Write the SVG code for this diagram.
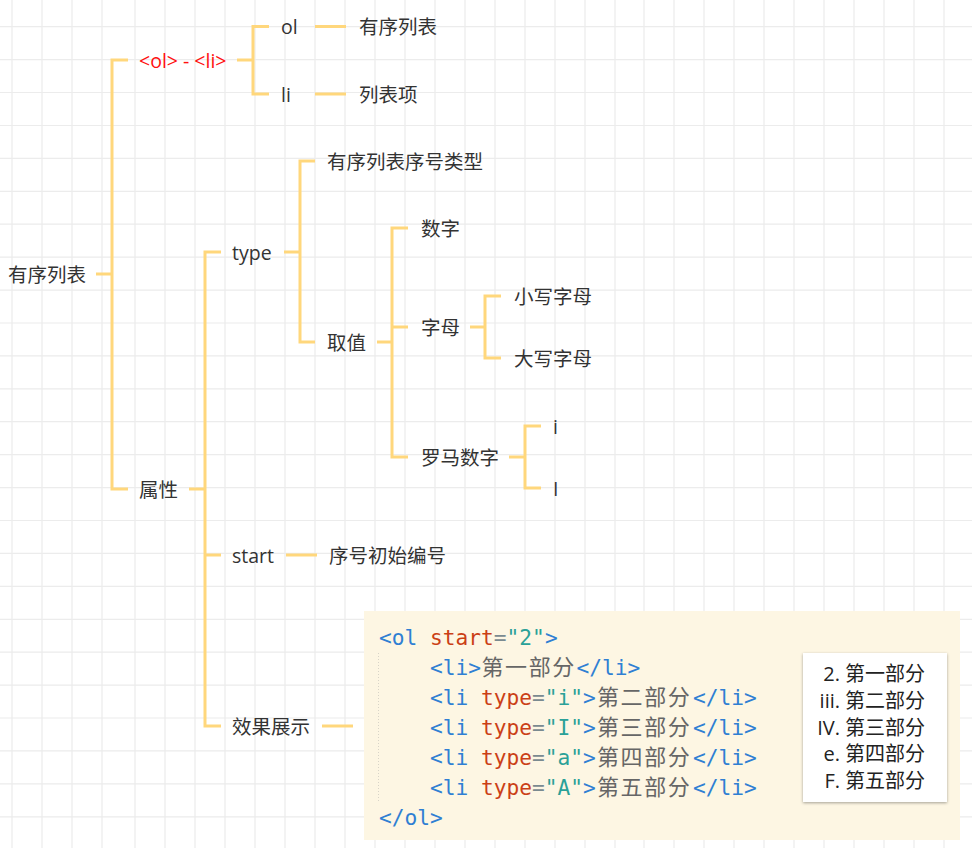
<svg xmlns="http://www.w3.org/2000/svg" width="972" height="848" viewBox="0 0 972 848">
<style>
.grid{stroke:#ececec;stroke-width:1.2;fill:none}
.conn{stroke:#ffd77c;stroke-width:3;fill:none;stroke-linejoin:miter;stroke-linecap:butt}
.n{font-family:"Open Sans","Noto Sans CJK SC",sans-serif;font-size:19.5px;fill:#333;dominant-baseline:central}
.red{fill:#ff1010}
.code{font-family:"DejaVu Sans Mono","Noto Sans CJK SC",monospace;font-size:21.2px;fill:#657b83}
.cj{font-family:"Noto Sans CJK SC",sans-serif;font-size:22px;letter-spacing:1.6px;fill:#666}
.tg{fill:#2f7fd3}
.at{fill:#cb3f16}
.st{fill:#2aa198}
.eq{fill:#7a8a90}
.res{font-family:"Open Sans","Noto Sans CJK SC",sans-serif;font-size:20px;fill:#222;dominant-baseline:central}
</style>
<defs>
<filter id="sh" x="-10%" y="-10%" width="120%" height="120%">
<feDropShadow dx="0" dy="1" stdDeviation="1.5" flood-color="#000" flood-opacity="0.35"/>
</filter>
</defs>
<rect width="972" height="848" fill="#fff"/>
<path class="grid" d="M12 0V848M42 0V848M72 0V848M102 0V848M135 0V848M165 0V848M195 0V848M225 0V848M255 0V848M285 0V848M315 0V848M345 0V848M375 0V848M405 0V848M435 0V848M465 0V848M495 0V848M525 0V848M555 0V848M585 0V848M615 0V848M644 0V848M674 0V848M704 0V848M734 0V848M764 0V848M794 0V848M824 0V848M854 0V848M884 0V848M914 0V848M944 0V848
M0 26.7H972M0 59.6H972M0 92.5H972M0 125.5H972M0 158.4H972M0 191.3H972M0 224.2H972M0 257.1H972M0 290.1H972M0 323H972M0 355.9H972M0 388.8H972M0 421.7H972M0 454.7H972M0 487.6H972M0 520.5H972M0 553.4H972M0 586.3H972M0 619.3H972M0 652.2H972M0 685.1H972M0 718H972M0 750.9H972M0 783.9H972M0 816.8H972"/>

<g id="connectors">
<path class="conn" d="M96 274H112M128 60H112V489H128"/>
<path class="conn" d="M237 60H253M269 26.5H253V94H269"/>
<path class="conn" d="M315 26.5H346M315 94H346"/>
<path class="conn" d="M189 489H205M221 252H205V726H221M205 555H221"/>
<path class="conn" d="M284 252H300M315 161H300V342H315"/>
<path class="conn" d="M377 342H392M408 228H392V457H408M392 327H408"/>
<path class="conn" d="M470 327H485M501 296H485V358H501"/>
<path class="conn" d="M509 457H525M541 426H525V488H541"/>
<path class="conn" d="M286 555H317"/>
<path class="conn" d="M322 726H353"/>
</g>

<g id="node-root"><text class="n" x="8" y="274">有序列表</text></g>
<g id="node-ol-li"><text class="n red" x="139" y="60">&lt;ol&gt; - &lt;li&gt;</text></g>
<g id="node-ol"><text class="n" x="281" y="26.5">ol</text></g>
<g id="node-ol-desc"><text class="n" x="359" y="26.5">有序列表</text></g>
<g id="node-li"><text class="n" x="281" y="94">li</text></g>
<g id="node-li-desc"><text class="n" x="359" y="94">列表项</text></g>
<g id="node-attr"><text class="n" x="139" y="489">属性</text></g>
<g id="node-type"><text class="n" x="232" y="252">type</text></g>
<g id="node-type-desc"><text class="n" x="327" y="161">有序列表序号类型</text></g>
<g id="node-values"><text class="n" x="327" y="342">取值</text></g>
<g id="node-digits"><text class="n" x="421" y="228">数字</text></g>
<g id="node-letters"><text class="n" x="421" y="327">字母</text></g>
<g id="node-lower"><text class="n" x="514" y="296">小写字母</text></g>
<g id="node-upper"><text class="n" x="514" y="358">大写字母</text></g>
<g id="node-roman"><text class="n" x="421" y="457">罗马数字</text></g>
<g id="node-roman-lower"><text class="n" x="553" y="426">i</text></g>
<g id="node-roman-upper"><text class="n" x="553" y="488">I</text></g>
<g id="node-start"><text class="n" x="232" y="555">start</text></g>
<g id="node-start-desc"><text class="n" x="329" y="555">序号初始编号</text></g>
<g id="node-demo"><text class="n" x="232" y="726">效果展示</text></g>

<g id="node-code">
<rect x="364" y="611" width="596" height="229" fill="#fdf6e3"/>
<line x1="378.5" y1="653" x2="378.5" y2="803" stroke="#d8d4c8" stroke-width="1" stroke-dasharray="1 2"/>
<text class="code" x="379" y="645"><tspan class="tg">&lt;ol</tspan><tspan class="at"> start</tspan><tspan class="eq">=</tspan><tspan class="st">"2"</tspan><tspan class="tg">&gt;</tspan></text>
<text class="code" y="675"><tspan class="tg" x="430">&lt;li&gt;</tspan><tspan class="cj" x="481.5">第一部分</tspan><tspan class="tg" x="576.5">&lt;/li&gt;</tspan></text>
<text class="code" y="705"><tspan class="tg" x="430">&lt;li</tspan><tspan class="at"> type</tspan><tspan class="eq">=</tspan><tspan class="st">"i"</tspan><tspan class="tg">&gt;</tspan><tspan class="cj" x="597">第二部分</tspan><tspan class="tg" x="693">&lt;/li&gt;</tspan></text>
<text class="code" y="735"><tspan class="tg" x="430">&lt;li</tspan><tspan class="at"> type</tspan><tspan class="eq">=</tspan><tspan class="st">"I"</tspan><tspan class="tg">&gt;</tspan><tspan class="cj" x="597">第三部分</tspan><tspan class="tg" x="693">&lt;/li&gt;</tspan></text>
<text class="code" y="765"><tspan class="tg" x="430">&lt;li</tspan><tspan class="at"> type</tspan><tspan class="eq">=</tspan><tspan class="st">"a"</tspan><tspan class="tg">&gt;</tspan><tspan class="cj" x="597">第四部分</tspan><tspan class="tg" x="693">&lt;/li&gt;</tspan></text>
<text class="code" y="795"><tspan class="tg" x="430">&lt;li</tspan><tspan class="at"> type</tspan><tspan class="eq">=</tspan><tspan class="st">"A"</tspan><tspan class="tg">&gt;</tspan><tspan class="cj" x="597">第五部分</tspan><tspan class="tg" x="693">&lt;/li&gt;</tspan></text>
<text class="code tg" x="379" y="825">&lt;/ol&gt;</text>

<rect x="803" y="653" width="144" height="149" fill="#fff" filter="url(#sh)"/>
<text class="res" x="840" y="673" text-anchor="end">2.</text><text class="res" x="845" y="673">第一部分</text>
<text class="res" x="840" y="700" text-anchor="end">iii.</text><text class="res" x="845" y="700">第二部分</text>
<text class="res" x="840" y="727" text-anchor="end">IV.</text><text class="res" x="845" y="727">第三部分</text>
<text class="res" x="840" y="753" text-anchor="end">e.</text><text class="res" x="845" y="753">第四部分</text>
<text class="res" x="840" y="780" text-anchor="end">F.</text><text class="res" x="845" y="780">第五部分</text>
</g>
</svg>
